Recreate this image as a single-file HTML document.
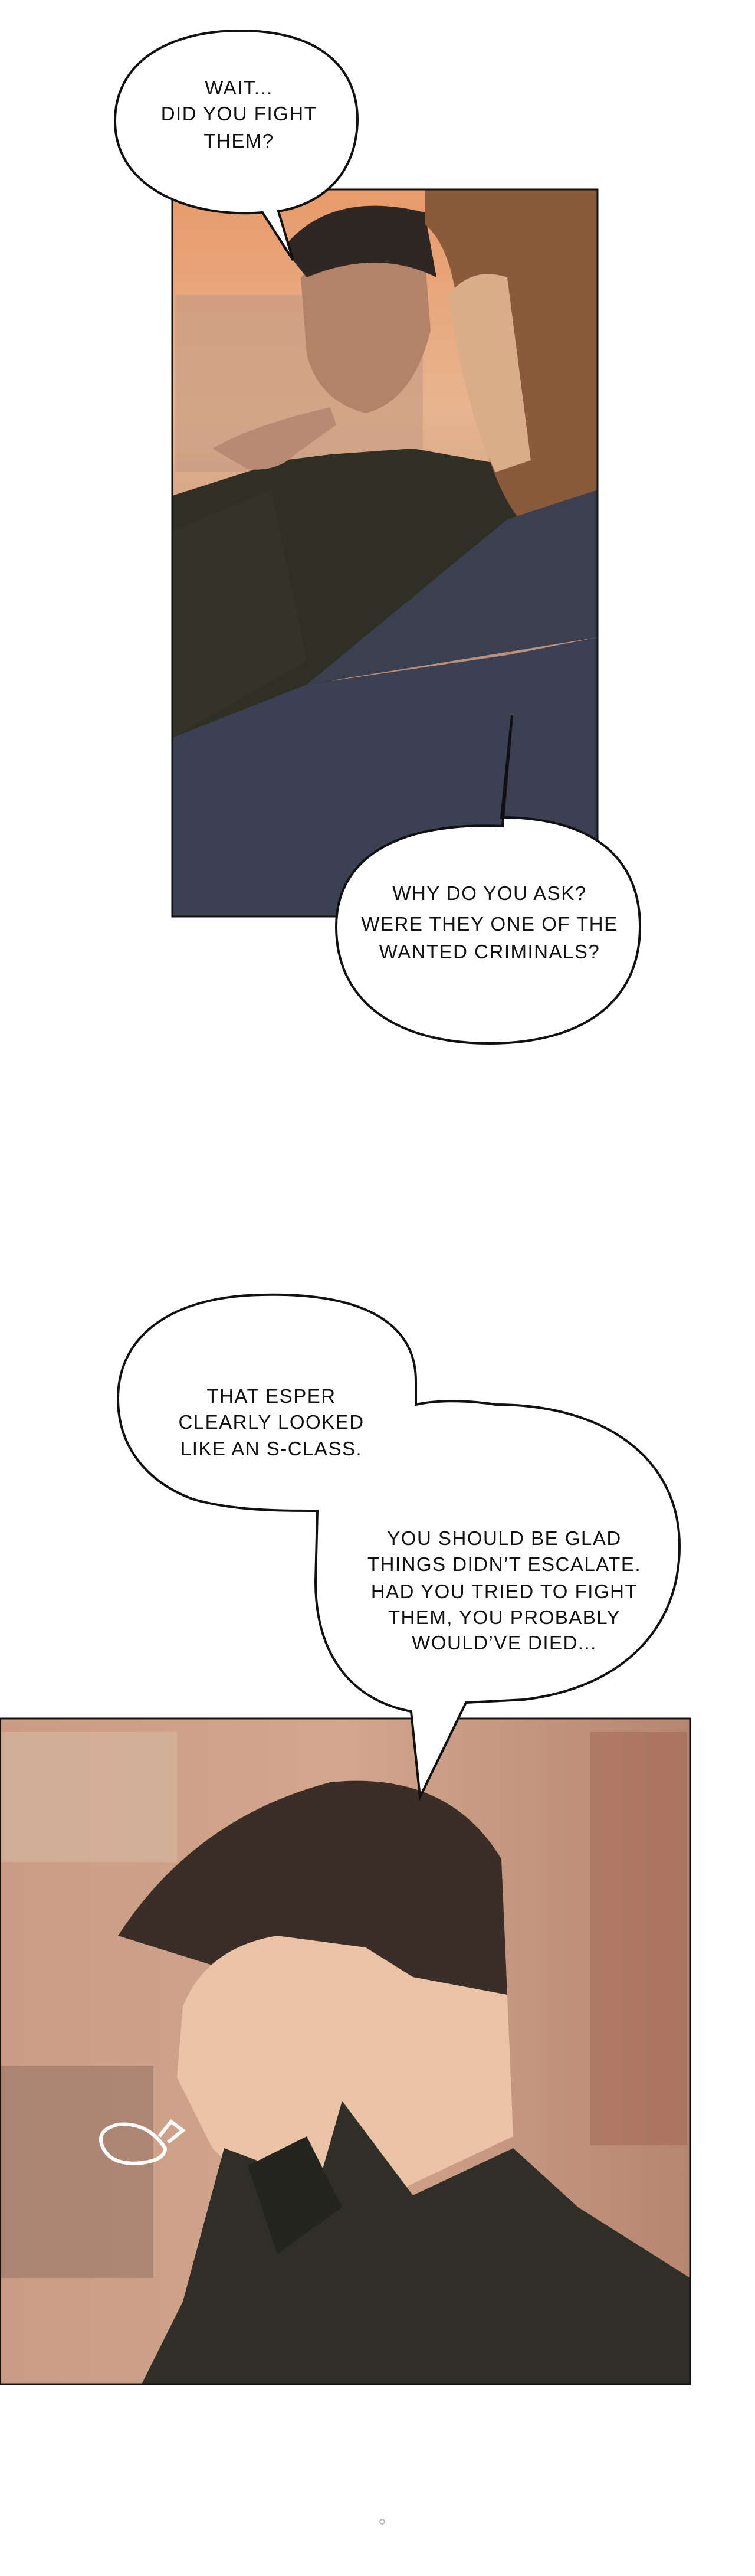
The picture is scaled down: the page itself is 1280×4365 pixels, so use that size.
<!DOCTYPE html>
<html><head><meta charset="utf-8"><style>
html,body{margin:0;padding:0;background:#fff}
svg{display:block}
text{font-family:"Liberation Sans",sans-serif;font-size:33px;fill:#111;text-anchor:middle;letter-spacing:1.5px}
</style></head><body>
<svg width="1280" height="4365" viewBox="0 0 1280 4365" xmlns="http://www.w3.org/2000/svg">
<defs>
<linearGradient id="sky" x1="0" y1="0" x2="0" y2="1">
<stop offset="0" stop-color="#e89a6a"/><stop offset="0.3" stop-color="#e7b58f"/><stop offset="0.55" stop-color="#c89a80"/><stop offset="1" stop-color="#8a6a60"/></linearGradient>
<linearGradient id="bg2" x1="0" y1="0" x2="1" y2="0">
<stop offset="0" stop-color="#c99c83"/><stop offset="0.5" stop-color="#d2a78e"/><stop offset="1" stop-color="#b78570"/></linearGradient>
</defs>
<!-- Panel 1 -->
<g>
<rect x="292" y="321" width="721" height="1232" fill="url(#sky)"/>
<rect x="297" y="500" width="420" height="300" fill="#c49a84" opacity="0.6"/>
<path d="M292 840 L480 780 L560 770 L700 760 L870 790 L890 1050 L700 1090 L292 1280 Z" fill="#2f2f25"/>
<path d="M292 900 L460 830 L520 1120 L292 1250 Z" fill="#33332a"/>
<path d="M510 470 Q600 380 720 430 L730 560 Q700 680 620 700 Q540 680 520 600 Z" fill="#b38269"/>
<path d="M480 420 Q560 320 720 360 L740 470 Q640 420 520 470 Z" fill="#2e2724"/>
<path d="M360 760 Q430 720 560 690 L570 720 L500 770 Q470 800 420 795 Z" fill="#b88a74"/>
<path d="M720 321 L1013 321 L1013 850 L890 890 Q820 820 780 560 Q770 420 720 380 Z" fill="#8a5a3a"/>
<path d="M760 500 Q800 450 860 470 L900 780 L840 800 Q790 700 760 500 Z" fill="#d8ad88"/>
<path d="M292 1250 L520 1160 L860 1110 L1013 1080 L1013 1553 L292 1553 Z" fill="#3b4152"/>
<path d="M860 880 L1013 830 L1013 1080 L520 1160 Z" fill="#3a4050"/>
<rect x="292" y="321" width="721" height="1232" fill="none" stroke="#111" stroke-width="3"/>
</g>
<!-- Bubble 1 -->
<path d="M402 52 C535 50 607 110 606 205 C604 290 552 345 472 358 L497 441 L445 360 C325 370 195 320 195 205 C195 110 278 54 402 52 Z" fill="#fff" stroke="#111" stroke-width="4"/>
<text x="405" y="160">WAIT...</text>
<text x="405" y="204">DID YOU FIGHT</text>
<text x="405" y="250">THEM?</text>
<!-- Bubble 2 -->
<path d="M850 1385 C1000 1385 1085 1450 1085 1570 C1085 1700 985 1768 830 1768 C675 1768 570 1700 570 1570 C570 1450 680 1392 852 1400 L868 1212 Z" fill="#fff" stroke="#111" stroke-width="4"/>
<text x="830" y="1525">WHY DO YOU ASK?</text>
<text x="830" y="1577">WERE THEY ONE OF THE</text>
<text x="830" y="1624">WANTED CRIMINALS?</text>
<!-- Panel 2 -->
<rect x="0" y="2912" width="1170" height="1128" fill="url(#bg2)"/>
<rect x="0" y="2935" width="300" height="220" fill="#d9b9a4" opacity="0.6"/>
<rect x="0" y="3500" width="260" height="360" fill="#8e6e60" opacity="0.5"/>
<rect x="1000" y="2935" width="165" height="700" fill="#a36a55" opacity="0.6"/>
<path d="M200 3280 Q330 3080 560 3020 Q760 3000 850 3150 L860 3380 L620 3420 L360 3330 Z" fill="#3b2e28"/>
<path d="M310 3400 Q350 3300 470 3280 L620 3300 L700 3350 L860 3380 L870 3620 L700 3700 L540 3780 L420 3700 L360 3640 L300 3520 Z" fill="#ebc3a6"/>
<path d="M380 3640 L540 3700 L580 3560 L700 3720 L870 3640 L980 3740 L1170 3860 L1170 4040 L240 4040 L310 3900 Z" fill="#2f2f28"/>
<path d="M420 3670 L520 3620 L580 3740 L470 3820 Z" fill="#252520"/>
<path d="M280 3640 Q250 3595 200 3600 Q160 3610 175 3640 Q190 3670 240 3665 Q280 3660 280 3640 Z M270 3620 L290 3595 L310 3610 L285 3630" fill="none" stroke="#fff" stroke-width="6"/>
<rect x="0" y="2912" width="1170" height="1128" fill="none" stroke="#111" stroke-width="3"/>
<!-- Bubble 3 + 4 merged -->
<path d="M445 2194 C612 2190 705 2240 705 2340 L705 2380 C750 2370 810 2375 840 2380 C1025 2380 1152 2470 1152 2620 C1152 2760 1055 2860 888 2880 L790 2885 L712 3045 L697 2900 C592 2880 535 2800 535 2680 L538 2560 C474 2560 394 2560 326 2540 C247 2510 200 2450 200 2370 C200 2260 296 2196 445 2194 Z" fill="#fff" stroke="#111" stroke-width="4"/>
<text x="460" y="2377">THAT ESPER</text>
<text x="460" y="2421">CLEARLY LOOKED</text>
<text x="460" y="2466">LIKE AN S-CLASS.</text>
<text x="855" y="2618">YOU SHOULD BE GLAD</text>
<text x="855" y="2662">THINGS DIDN’T ESCALATE.</text>
<text x="855" y="2708">HAD YOU TRIED TO FIGHT</text>
<text x="855" y="2752">THEM, YOU PROBABLY</text>
<text x="855" y="2795">WOULD’VE DIED...</text>
<circle cx="648" cy="4273" r="4" fill="none" stroke="#aab" stroke-width="1.5"/>
</svg>
</body></html>
